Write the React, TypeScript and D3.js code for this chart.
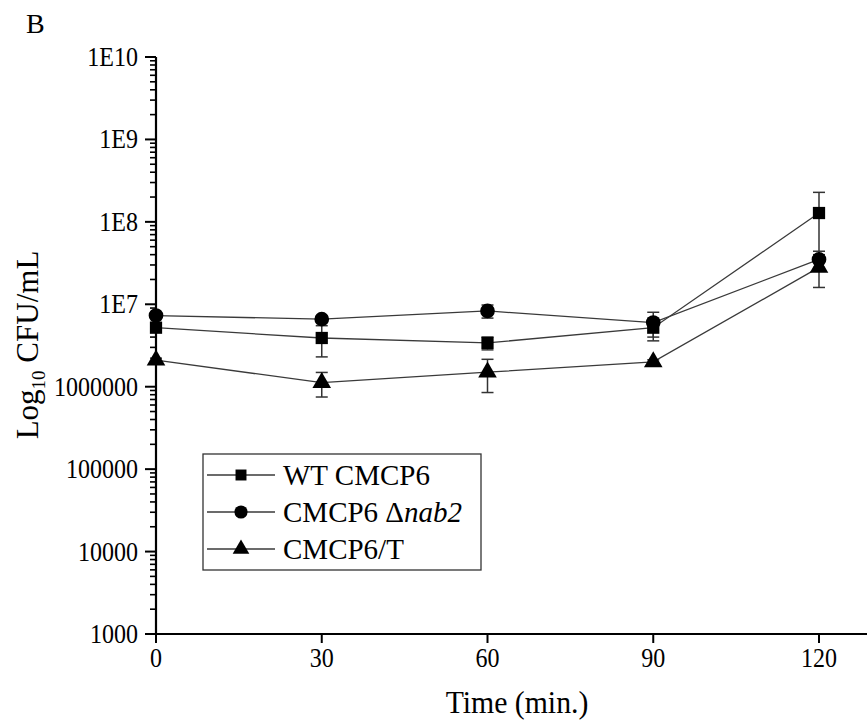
import React, { useEffect, useRef } from 'react';
import * as d3 from 'd3';

// time points (min.)
const times = [0, 30, 60, 90, 120];

// CFU/mL means and standard deviations
const wtMean = [5.2e6, 3.9e6, 3.4e6, 5.2e6, 1.28e8];
const wtSd = [0.3e6, 1.6e6, 0.6e6, 1.6e6, 1.0e8];
const nabMean = [7.3e6, 6.6e6, 8.3e6, 6.0e6, 3.5e7];
const nabSd = [0.5e6, 0.6e6, 1.5e6, 2.0e6, 0.9e7];
const tMean = [2.1e6, 1.12e6, 1.5e6, 2.0e6, 2.8e7];
const tSd = [0.12e6, 0.37e6, 0.65e6, 0.12e6, 1.2e7];

const yTickValues = [1e3, 1e4, 1e5, 1e6, 1e7, 1e8, 1e9, 1e10];
const yTickLabels = ['1000', '10000', '100000', '1000000', '1E7', '1E8', '1E9', '1E10'];
const xTickValues = [0, 30, 60, 90, 120];

const FONT = '"Liberation Serif", "Times New Roman", serif';

const series = [
    { name: 'WT CMCP6', mean: wtMean, sd: wtSd, symbol: d3.symbolSquare, size: 150 },
    { name: 'CMCP6 Δnab2', mean: nabMean, sd: nabSd, symbol: d3.symbolCircle, size: 170 },
    { name: 'CMCP6/T', mean: tMean, sd: tSd, symbol: d3.symbolTriangle, size: 150 },
];

export default function App() {
    const svgRef = useRef<SVGSVGElement>(null);

    useEffect(() => {
        const svg = d3.select(svgRef.current);
        svg.selectAll('*').remove();

        var x = d3.scaleLinear().domain([0, 120]).range([156, 819]);
        var y = d3.scaleLog().domain([1e3, 1e10]).range([634, 57]);

        // text is slightly condensed in the original figure
        const label = (px: number, py: number, anchor: string, size: number, sx: number) =>
            svg.append('text')
                .attr('transform', 'translate(' + px + ',' + py + ') scale(' + sx + ',1)')
                .attr('text-anchor', anchor)
                .style('font-family', FONT).style('font-size', size + 'px');

        // x axis line runs off the right edge
        svg.append('line')
            .attr('x1', 155).attr('x2', 867)
            .attr('y1', y(1e3)).attr('y2', y(1e3))
            .attr('stroke', '#000').attr('stroke-width', 2.2);
        svg.append('line')
            .attr('x1', x(0)).attr('x2', x(0))
            .attr('y1', y(1e10)).attr('y2', y(1e3) + 1)
            .attr('stroke', '#000').attr('stroke-width', 2.2);

        // x ticks
        xTickValues.forEach(t => {
            svg.append('line')
                .attr('x1', x(t)).attr('x2', x(t))
                .attr('y1', y(1e3)).attr('y2', y(1e3) + 9)
                .attr('stroke', '#000').attr('stroke-width', 2);
            label(x(t), 667, 'middle', 27, 0.89).text(t);
        });

        // y major ticks + labels
        yTickValues.forEach((v, i) => {
            svg.append('line')
                .attr('x1', x(0) - 11).attr('x2', x(0))
                .attr('y1', y(v)).attr('y2', y(v))
                .attr('stroke', '#000').attr('stroke-width', 2);
            label(138, y(v) + 9, 'end', 27, 0.89).text(yTickLabels[i]);
        });

        // y minor ticks
        for (let k = 3; k < 10; k++) {
            for (let m = 2; m <= 9; m++) {
                const v = m * Math.pow(10, k);
                svg.append('line')
                    .attr('x1', x(0) - 6).attr('x2', x(0))
                    .attr('y1', y(v)).attr('y2', y(v))
                    .attr('stroke', '#000').attr('stroke-width', 1.6);
            }
        }

        // axis titles
        label(517, 713, 'middle', 32, 0.93).text('Time (min.)');

        const yt = svg.append('text')
            .attr('transform', 'translate(38,345) rotate(-90)')
            .attr('text-anchor', 'middle')
            .style('font-family', FONT).style('font-size', '31px');
        yt.append('tspan').text('Log');
        yt.append('tspan').attr('font-size', '19px').attr('dy', 7).text('10');
        yt.append('tspan').attr('dy', -7).text(' CFU/mL');

        // panel letter
        svg.append('text')
            .attr('x', 26).attr('y', 33)
            .style('font-family', FONT).style('font-size', '28px')
            .text('B');

        var line = d3.line<number>()
            .x((d, i) => x(times[i]))
            .y(d => y(d));

        series.forEach(s => {
            svg.append('path')
                .attr('d', line(s.mean))
                .attr('fill', 'none')
                .attr('stroke', '#3a3a3a')
                .attr('stroke-width', 1.3);
        });

        // error bars
        series.forEach(s => {
            s.mean.forEach((m, i) => {
                const cx = x(times[i]);
                const lo = y(Math.max(m - s.sd[i], 1e3));
                const hi = y(m + s.sd[i]);
                const g = svg.append('g').attr('stroke', '#333').attr('stroke-width', 1.5);
                g.append('line').attr('x1', cx).attr('x2', cx).attr('y1', lo).attr('y2', hi);
                g.append('line').attr('x1', cx - 6).attr('x2', cx + 6).attr('y1', lo).attr('y2', lo);
                g.append('line').attr('x1', cx - 6).attr('x2', cx + 6).attr('y1', hi).attr('y2', hi);
            });
        });

        // markers
        series.forEach(s => {
            s.mean.forEach((m, i) => {
                svg.append('path')
                    .attr('d', d3.symbol().type(s.symbol).size(s.size)())
                    .attr('transform', 'translate(' + x(times[i]) + ',' + y(m) + ')')
                    .attr('fill', '#000');
            });
        });

        // legend
        const lg = svg.append('g');
        lg.append('rect')
            .attr('x', 203).attr('y', 454)
            .attr('width', 278).attr('height', 116)
            .attr('fill', '#fff')
            .attr('stroke', '#333').attr('stroke-width', 1.3);
        const rows = [475, 512, 549];
        series.forEach((s, i) => {
            lg.append('line')
                .attr('x1', 207).attr('x2', 275)
                .attr('y1', rows[i]).attr('y2', rows[i])
                .attr('stroke', '#3a3a3a').attr('stroke-width', 1.3);
            lg.append('path')
                .attr('d', d3.symbol().type(s.symbol).size(s.size * 0.8)())
                .attr('transform', 'translate(241,' + rows[i] + ')')
                .attr('fill', '#000');
            const t = lg.append('text')
                .attr('x', 283).attr('y', rows[i] + 10)
                .style('font-family', FONT).style('font-size', '29px');
            if (s.name === 'CMCP6 Δnab2') {
                t.append('tspan').text('CMCP6 Δ');
                t.append('tspan').style('font-style', 'italic').text('nab2');
            } else {
                t.text(s.name);
            }
        });
    }, []);

    return (
        <svg ref={svgRef} width={867} height={725}
            style={{ position: 'absolute', left: 0, top: 0, background: '#fff' }} />
    );
}
